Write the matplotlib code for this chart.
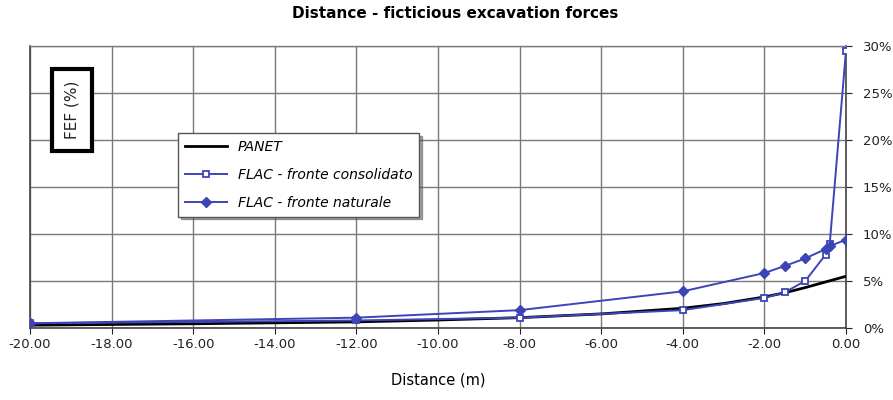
import numpy as np
import matplotlib
matplotlib.use("Agg")
import matplotlib.pyplot as plt
from matplotlib.ticker import FuncFormatter, MultipleLocator

# data
panet_x = [-20, -16, -12, -10, -8, -6, -4, -3, -2, -1.5, -1, -0.5, 0]
panet_y = [0.3, 0.45, 0.65, 0.85, 1.1, 1.5, 2.1, 2.6, 3.3, 3.75, 4.3, 4.9, 5.5]

cons_x = [-20, -12, -8, -4, -2, -1.5, -1, -0.5, -0.4, 0]
cons_y = [0.5, 0.8, 1.1, 1.9, 3.2, 3.8, 5.0, 7.8, 8.9, 29.5]

nat_x = [-20, -12, -8, -4, -2, -1.5, -1, -0.5, -0.4, 0]
nat_y = [0.5, 1.1, 1.9, 3.9, 5.85, 6.6, 7.4, 8.4, 8.7, 9.4]

blue = "#3d44b8"

fig = plt.figure(figsize=(8.93, 4.0), dpi=100)
ax = fig.add_axes([30/893, 72/400, 816/893, 282/400])

ax.plot(panet_x, panet_y, color="black", lw=2, label="PANET", zorder=3)
ax.plot(cons_x, cons_y, color=blue, lw=1.4, marker="s", ms=5, mfc="white",
        mec=blue, mew=1.3, label="FLAC - fronte consolidato", zorder=4)
ax.plot(nat_x, nat_y, color=blue, lw=1.4, marker="D", ms=5, mfc=blue,
        mec=blue, label="FLAC - fronte naturale", zorder=5)

ax.set_xlim(-20, 0)
ax.set_ylim(0, 30)
ax.xaxis.set_major_locator(MultipleLocator(2))
ax.yaxis.set_major_locator(MultipleLocator(5))
ax.xaxis.set_major_formatter(FuncFormatter(lambda v, p: f"{v:.2f}"))
ax.yaxis.set_major_formatter(FuncFormatter(lambda v, p: f"{v:.0f}%"))
ax.yaxis.tick_right()
ax.tick_params(axis="both", labelsize=9.5, colors="#222222", length=4, direction="out")
ax.tick_params(axis="y", pad=8)
ax.grid(True, color="#7a7a7a", lw=1)
ax.set_axisbelow(True)
for s in ax.spines.values():
    s.set_color("#444444")
    s.set_linewidth(1.2)
ax.spines["top"].set_color("#7a7a7a")
ax.spines["top"].set_linewidth(1)

fig.suptitle("Distance - ficticious excavation forces", x=455/893, y=0.985,
             fontsize=11, fontweight="bold")
ax.set_xlabel("Distance (m)", fontsize=10.5, labelpad=15)

# boxed y label inside the plot
fig.text(72/893, 1 - 110/400, "FEF (%)", rotation=90, ha="center", va="center",
         fontsize=11, color="#222222",
         bbox=dict(boxstyle="square,pad=0.8", fc="white", ec="black", lw=3))

leg = ax.legend(loc="upper left", bbox_to_anchor=((178-30)/816, 1 - (133-46)/282),
                frameon=True, fancybox=False, shadow=True,
                borderaxespad=0, handlelength=3.0, labelspacing=1.0,
                borderpad=0.5, prop={"style": "italic", "size": 10})
leg.get_frame().set_edgecolor("#555555")
leg.get_frame().set_linewidth(1)

fig.savefig("out.png", dpi=100)
